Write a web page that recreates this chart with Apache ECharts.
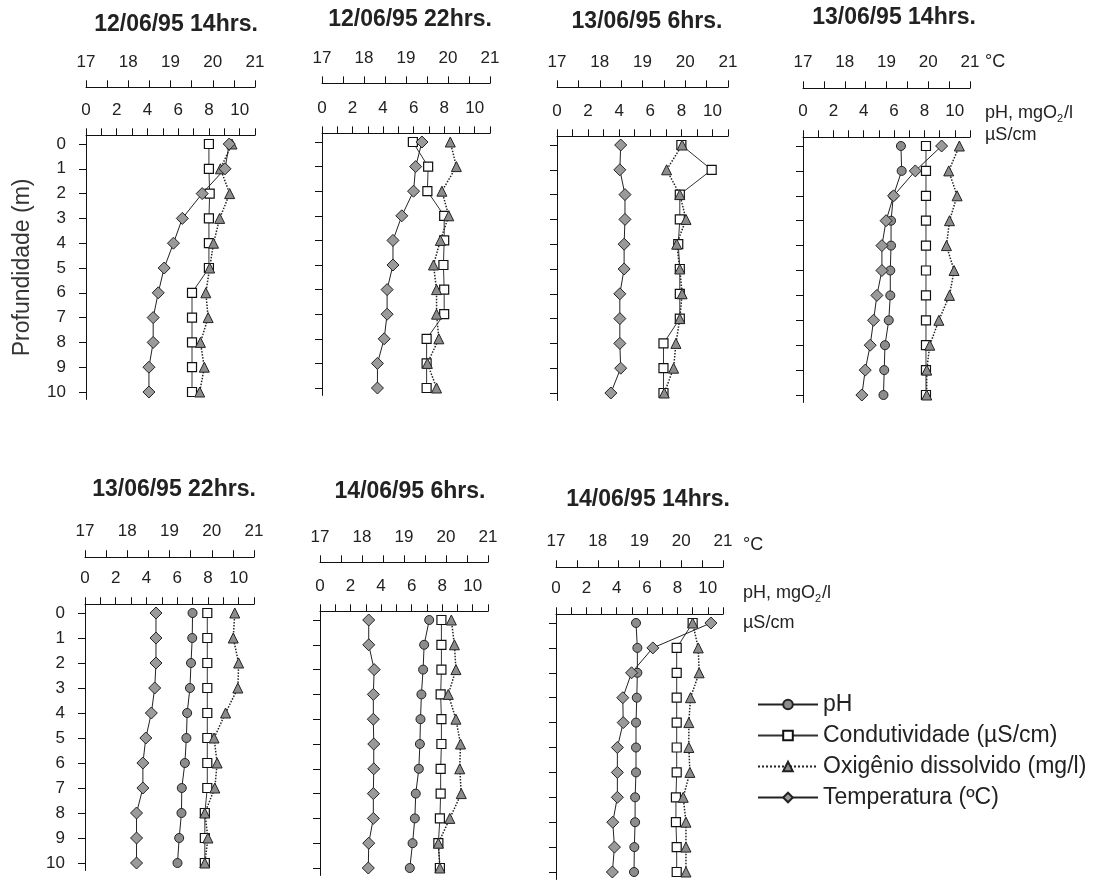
<!DOCTYPE html>
<html><head><meta charset="utf-8">
<script src="https://cdn.jsdelivr.net/npm/echarts@6/dist/echarts.min.js"></script>
<style>html,body{margin:0;padding:0;background:#fff}#c{width:1100px;height:881px}</style>
</head><body><div id="c"></div>
<script>
// ---------- data ----------
const depths = [0, 1, 2, 3, 4, 5, 6, 7, 8, 9, 10];
const titles = ['12/06/95 14hrs.', '12/06/95 22hrs.', '13/06/95 6hrs.', '13/06/95 14hrs.',
                '13/06/95 22hrs.', '14/06/95 6hrs.', '14/06/95 14hrs.'];
const tempTickLabels = [17, 18, 19, 20, 21];
const scaleTickLabels = [0, 2, 4, 6, 8, 10];
const seriesNames = ['pH', 'Condutividade (µS/cm)', 'Oxigênio dissolvido (mg/l)', 'Temperatura (ºC)'];

// pH
const ph1 = [];
const ph2 = [];
const ph3 = [];
const ph4 = [6.45, 6.5, 5.95, 5.8, 5.8, 5.75, 5.75, 5.65, 5.4, 5.35, 5.3];
const ph5 = [7.0, 6.98, 6.9, 6.83, 6.65, 6.6, 6.5, 6.3, 6.28, 6.13, 6.02];
const ph6 = [7.15, 6.82, 6.75, 6.64, 6.58, 6.54, 6.47, 6.27, 6.21, 6.06, 5.88];
const ph7 = [5.27, 5.36, 5.36, 5.32, 5.27, 5.27, 5.27, 5.21, 5.21, 5.16, 5.14];
// Condutividade (µS/cm)
const cond1 = [8.0, 8.0, 8.05, 8.0, 8.0, 8.0, 6.9, 6.9, 6.9, 6.9, 6.9];
const cond2 = [5.95, 6.95, 6.9, 8.0, 8.0, 7.95, 8.0, 8.0, 6.85, 6.85, 6.85];
const cond3 = [8.0, 9.95, 7.9, 7.9, 7.8, 7.9, 7.9, 7.9, 6.85, 6.85, 6.85];
const cond4 = [8.1, 8.1, 8.1, 8.1, 8.1, 8.1, 8.1, 8.1, 8.1, 8.1, 8.1];
const cond5 = [7.96, 7.96, 7.96, 7.96, 7.96, 7.96, 7.96, 7.96, 7.8, 7.8, 7.8];
const cond6 = [7.95, 7.95, 7.95, 7.9, 7.95, 7.95, 7.9, 7.9, 7.85, 7.75, 7.85];
const cond7 = [9.0, 7.95, 7.95, 7.95, 7.95, 7.95, 7.95, 7.9, 7.9, 7.95, 7.95];
// Oxigênio dissolvido (mg/l)
const od1 = [9.5, 8.75, 9.35, 8.7, 8.3, 8.05, 7.8, 7.95, 7.45, 7.7, 7.4];
const od2 = [8.4, 8.8, 7.85, 8.3, 7.75, 7.3, 7.5, 7.5, 7.65, 6.9, 7.5];
const od3 = [8.05, 7.05, 7.9, 8.3, 7.7, 7.9, 8.05, 7.9, 7.65, 7.5, 6.9];
const od4 = [10.3, 9.6, 10.15, 9.65, 9.45, 9.95, 9.65, 8.95, 8.35, 8.15, 8.15];
const od5 = [9.75, 9.65, 10.0, 9.95, 9.15, 8.4, 8.6, 8.45, 7.8, 8.0, 7.8];
const od6 = [8.6, 8.8, 8.9, 8.4, 8.9, 9.2, 9.15, 9.25, 8.5, 7.75, 7.85];
const od7 = [9.0, 9.37, 9.43, 8.86, 8.75, 8.75, 8.82, 8.38, 8.56, 8.56, 8.56];
// Temperatura (ºC)
const temp1 = [20.39, 20.29, 19.75, 19.28, 19.07, 18.85, 18.71, 18.59, 18.59, 18.49, 18.49];
const temp2 = [19.38, 19.23, 19.18, 18.90, 18.69, 18.69, 18.55, 18.55, 18.48, 18.32, 18.32];
const temp3 = [18.49, 18.47, 18.59, 18.59, 18.57, 18.57, 18.47, 18.47, 18.47, 18.49, 18.26];
const temp4 = [20.32, 19.69, 19.17, 18.99, 18.89, 18.89, 18.77, 18.69, 18.61, 18.49, 18.41];
const temp5 = [18.68, 18.68, 18.68, 18.65, 18.57, 18.44, 18.37, 18.37, 18.22, 18.22, 18.22];
const temp6 = [18.16, 18.16, 18.29, 18.27, 18.27, 18.28, 18.28, 18.27, 18.27, 18.16, 18.15];
const temp7 = [20.71, 19.32, 18.81, 18.6, 18.61, 18.47, 18.47, 18.47, 18.36, 18.4, 18.35];

const phData = [ph1, ph2, ph3, ph4, ph5, ph6, ph7];
const condData = [cond1, cond2, cond3, cond4, cond5, cond6, cond7];
const odData = [od1, od2, od3, od4, od5, od6, od7];
const tempData = [temp1, temp2, temp3, temp4, temp5, temp6, temp7];

// ---------- layout ----------
const FONT = 'Liberation Sans, Arial, sans-serif';
const panelLeft  = [86, 322, 557, 803, 85, 320, 556];
const panelRight = [255, 490, 728, 970, 254, 488, 723];
const panelD0    = [144, 142, 145, 146, 613, 620, 623];
const panelD10   = [392, 388, 393, 395, 863, 868, 872];
const tempOffset = [48, 50, 49, 49, 47, 49, 47];
const titlePos   = [[176, 25], [410, 20], [647, 22], [894, 18], [174, 490], [410, 492], [648, 500]];
const Y_MIN = -0.35, Y_MAX = 10.3;

const grids = [], xAxes = [], yAxes = [], series = [], graphics = [];

const tickLbl = { fontFamily: FONT, fontSize: 17, color: '#222' };
const axisLineStyle = { lineStyle: { color: '#111', width: 1 } };

const styles = {
  ph:   { symbol: 'circle', symbolSize: 9,
          itemStyle: { color: '#8c8c8c', borderColor: '#222', borderWidth: 1 },
          lineStyle: { color: '#222', width: 1, type: 'solid' } },
  cond: { symbol: 'rect', symbolSize: 9,
          itemStyle: { color: '#ffffff', borderColor: '#111', borderWidth: 1.2 },
          lineStyle: { color: '#333', width: 1, type: 'solid' } },
  od:   { symbol: 'triangle', symbolSize: 10,
          itemStyle: { color: '#8c8c8c', borderColor: '#222', borderWidth: 1 },
          lineStyle: { color: '#222', width: 1.5, type: 'dotted' } },
  temp: { symbol: 'diamond', symbolSize: 12,
          itemStyle: { color: '#9a9a9a', borderColor: '#222', borderWidth: 1 },
          lineStyle: { color: '#222', width: 1, type: 'solid' } }
};

for (let i = 0; i < 7; i++) {
  const scale = (panelD10[i] - panelD0[i]) / 10;
  const top = panelD0[i] + Y_MIN * scale;
  const height = (Y_MAX - Y_MIN) * scale;
  grids.push({ left: panelLeft[i], top: top, width: panelRight[i] - panelLeft[i], height: height });

  // pH / mgO2/l / µS/cm axis
  xAxes.push({
    type: 'value', gridIndex: i, position: 'top', min: 0, max: 11, interval: 1,
    axisLine: { show: true, onZero: false, ...axisLineStyle },
    axisTick: { show: true, length: 7, inside: false, lineStyle: { color: '#111' } },
    splitLine: { show: false },
    axisLabel: { ...tickLbl, margin: 17, showMaxLabel: true,
      formatter: v => scaleTickLabels.includes(v) ? String(v) : '' }
  });
  // temperature axis
  xAxes.push({
    type: 'value', gridIndex: i, position: 'top', offset: tempOffset[i], min: 17, max: 21, interval: 0.5,
    axisLine: { show: true, onZero: false, ...axisLineStyle },
    axisTick: { show: true, length: 7, lineStyle: { color: '#111' } },
    splitLine: { show: false },
    axisLabel: { ...tickLbl, margin: 17,
      formatter: v => tempTickLabels.includes(v) ? String(v) : '' }
  });
  const showLbl = (i === 0 || i === 4);
  yAxes.push({
    type: 'value', gridIndex: i, inverse: true, min: Y_MIN, max: Y_MAX,
    name: i === 0 ? 'Profundidade (m)' : '',
    nameLocation: 'middle', nameGap: 52,
    nameTextStyle: { fontFamily: FONT, fontSize: 23, color: '#333' },
    axisLine: { show: true, onZero: false, ...axisLineStyle },
    axisTick: { show: true, length: 7, customValues: depths, lineStyle: { color: '#111' } },
    splitLine: { show: false },
    axisLabel: { show: showLbl, ...tickLbl, margin: 20, customValues: depths }
  });

  const mk = (name, st, arr, xIdx) => ({
    name: name, type: 'line', xAxisIndex: xIdx, yAxisIndex: i,
    data: arr.map((v, k) => [v, depths[k]]),
    symbol: st.symbol, symbolSize: st.symbolSize, showSymbol: true, showAllSymbol: true,
    itemStyle: st.itemStyle, lineStyle: st.lineStyle, animation: false, z: 3
  });
  series.push(mk(seriesNames[0], styles.ph, phData[i], 2 * i));
  series.push(mk(seriesNames[1], styles.cond, condData[i], 2 * i));
  series.push(mk(seriesNames[2], styles.od, odData[i], 2 * i));
  series.push(mk(seriesNames[3], styles.temp, tempData[i], 2 * i + 1));

  graphics.push({ type: 'text', x: titlePos[i][0], y: titlePos[i][1],
    style: { text: titles[i], fontFamily: FONT, fontSize: 23, fontWeight: 'bold', fill: '#222',
             align: 'center', verticalAlign: 'middle' } });
}

// unit labels next to panels 4 and 7
function unitLabels(x, yC, yP, yU) {
  const base = { fontFamily: FONT, fontSize: 18, fill: '#222', align: 'left', verticalAlign: 'middle' };
  graphics.push({ type: 'text', x: x, y: yC, style: { ...base, text: '°C' } });
  graphics.push({ type: 'text', x: x, y: yP, style: { ...base, text: 'pH, mgO' } });
  graphics.push({ type: 'text', x: x + 72, y: yP + 6, style: { ...base, fontSize: 11, text: '2' } });
  graphics.push({ type: 'text', x: x + 79, y: yP, style: { ...base, text: '/l' } });
  graphics.push({ type: 'text', x: x, y: yU, style: { ...base, text: 'µS/cm' } });
}
unitLabels(985, 62, 113, 135);
unitLabels(743, 545, 593, 623);

const chart = echarts.init(document.getElementById('c'), null, { renderer: 'canvas' });
chart.setOption({
  animation: false,
  backgroundColor: '#ffffff',
  grid: grids, xAxis: xAxes, yAxis: yAxes, series: series,
  legend: {
    data: seriesNames, orient: 'vertical', left: 752, top: 688,
    itemWidth: 60, itemHeight: 12, itemGap: 8,
    textStyle: { fontFamily: FONT, fontSize: 23, color: '#222' }
  },
  graphic: graphics
});
</script></body></html>
